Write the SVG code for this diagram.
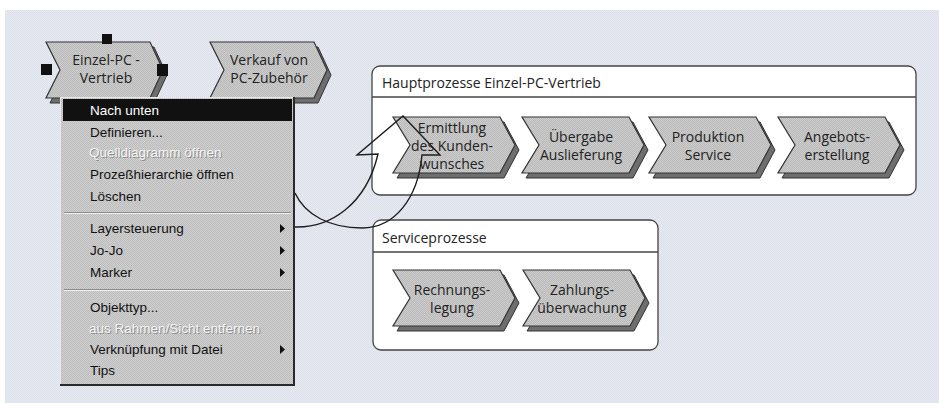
<svg xmlns="http://www.w3.org/2000/svg" xmlns:xlink="http://www.w3.org/1999/xlink" width="939" height="403" viewBox="0 0 939 403">
<style>
.ct{font-family:"Open Sans","Noto Sans","Liberation Sans",sans-serif;font-size:14px;fill:#222;text-anchor:middle}
.tt{font-family:"Open Sans","Noto Sans","Liberation Sans",sans-serif;font-size:14px;fill:#222}
.mt{font-family:"Liberation Sans","DejaVu Sans",sans-serif;font-size:13.5px;fill:#111}
.md{font-family:"Liberation Sans","DejaVu Sans",sans-serif;font-size:13.5px;fill:#f4f4f4}
.mds{font-family:"Liberation Sans","DejaVu Sans",sans-serif;font-size:13.5px;fill:#8c8c8c}
.chev{fill:url(#dith);stroke:#333;stroke-width:1.2}
.shad{fill:#6e6e6e;stroke:#333;stroke-width:1}
.box{fill:#fff;stroke:#444;stroke-width:1.3}
.conn{fill:none;stroke:#1e1e1e;stroke-width:1.4;stroke-linejoin:miter}
.sub{fill:#111}
</style>
<defs>
<pattern id="dith" width="2" height="2" patternUnits="userSpaceOnUse"><rect width="2" height="2" fill="#cdcdcd"/><rect width="1" height="1" fill="#b9b9b9"/><rect x="1" y="1" width="1" height="1" fill="#b9b9b9"/></pattern>
<pattern id="mdith" width="2" height="2" patternUnits="userSpaceOnUse"><rect width="2" height="2" fill="#d0d0d0"/><rect width="1" height="1" fill="#bcbcbc"/><rect x="1" y="1" width="1" height="1" fill="#bcbcbc"/></pattern>
<pattern id="bg" width="2" height="2" patternUnits="userSpaceOnUse"><rect width="2" height="2" fill="#e6e9f1"/><rect width="1" height="1" fill="#dde1ea"/><rect x="1" y="1" width="1" height="1" fill="#dde1ea"/></pattern>
<path id="chev" d="M0,0 L107,0 L122,28 L107,56 L0,56 L17,28 Z"/>
<path id="chevs" d="M0,0 L104,0 L117,28 L104,56 L0,56 L14,28 Z"/>
<polygon id="tri" points="0,0 5,4.5 0,9"/>
</defs>

<rect x="0" y="0" width="939" height="403" fill="#fff"/>
<rect x="5" y="10" width="934" height="393" fill="url(#bg)"/>

<g id="node-einzel-pc-vertrieb">
<use xlink:href="#chevs" x="50" y="47" class="shad"/>
<use xlink:href="#chevs" x="46" y="42" class="chev"/>
<text class="ct" x="106" y="65">Einzel-PC -</text>
<text class="ct" x="106" y="83">Vertrieb</text>
<rect x="102" y="34" width="10" height="10" fill="#111"/>
<rect x="41" y="64" width="11" height="11" fill="#111"/>
<rect x="157" y="64" width="11" height="12" fill="#111"/>
</g>

<g id="node-verkauf-pc-zubehoer">
<use xlink:href="#chevs" x="214" y="47" class="shad"/>
<use xlink:href="#chevs" x="210" y="42" class="chev"/>
<text class="ct" x="269" y="65">Verkauf von</text>
<text class="ct" x="269" y="83">PC-Zubehör</text>
</g>

<g id="group-hauptprozesse">
<rect class="box" x="372" y="66" width="544" height="129" rx="8"/>
<line x1="372" y1="97" x2="916" y2="97" stroke="#444" stroke-width="1.3"/>
<text class="tt" x="382" y="88">Hauptprozesse Einzel-PC-Vertrieb</text>
</g>

<g id="node-ermittlung">
<use xlink:href="#chev" x="397" y="122" class="shad"/>
<use xlink:href="#chev" x="393" y="117" class="chev"/>
<text class="ct" x="452" y="133">Ermittlung</text>
<text class="ct" x="452" y="151">des Kunden-</text>
<text class="ct" x="452" y="169">wunsches</text>
</g>
<g id="node-uebergabe">
<use xlink:href="#chev" x="526" y="122" class="shad"/>
<use xlink:href="#chev" x="522" y="117" class="chev"/>
<text class="ct" x="581" y="142">Übergabe</text>
<text class="ct" x="581" y="160">Auslieferung</text>
</g>
<g id="node-produktion">
<use xlink:href="#chev" x="653" y="122" class="shad"/>
<use xlink:href="#chev" x="649" y="117" class="chev"/>
<text class="ct" x="708" y="142">Produktion</text>
<text class="ct" x="708" y="160">Service</text>
</g>
<g id="node-angebot">
<use xlink:href="#chev" x="782" y="122" class="shad"/>
<use xlink:href="#chev" x="778" y="117" class="chev"/>
<text class="ct" x="837" y="142">Angebots-</text>
<text class="ct" x="837" y="160">erstellung</text>
</g>

<g id="group-serviceprozesse">
<rect class="box" x="373" y="220" width="285" height="130" rx="8"/>
<line x1="373" y1="252" x2="658" y2="252" stroke="#444" stroke-width="1.3"/>
<text class="tt" x="382" y="243">Serviceprozesse</text>
</g>
<g id="node-rechnung">
<use xlink:href="#chev" x="397" y="275" class="shad"/>
<use xlink:href="#chev" x="393" y="270" class="chev"/>
<text class="ct" x="452" y="295">Rechnungs-</text>
<text class="ct" x="452" y="313">legung</text>
</g>
<g id="node-zahlung">
<use xlink:href="#chev" x="527" y="275" class="shad"/>
<use xlink:href="#chev" x="523" y="270" class="chev"/>
<text class="ct" x="582" y="295">Zahlungs-</text>
<text class="ct" x="582" y="313">überwachung</text>
</g>

<g id="context-menu">
<rect x="60" y="97" width="235" height="288" fill="url(#mdith)"/>
<line x1="60.5" y1="97" x2="60.5" y2="385" stroke="#e8e8e8"/>
<line x1="60" y1="97.5" x2="295" y2="97.5" stroke="#e8e8e8"/>
<line x1="294" y1="97" x2="294" y2="386" stroke="#2a2a2a" stroke-width="2"/>
<line x1="60" y1="385" x2="295" y2="385" stroke="#2a2a2a" stroke-width="2"/>
<rect x="63" y="99" width="229" height="22" fill="#111"/>
<text class="mt" x="90" y="115" fill="#fff" style="fill:#fff">Nach unten</text>
<text class="mt" x="90" y="137">Definieren...</text>
<text class="mds" x="90" y="158">Quelldiagramm öffnen</text>
<text class="md" x="89" y="157">Quelldiagramm öffnen</text>
<text class="mt" x="90" y="179">Prozeßhierarchie öffnen</text>
<text class="mt" x="90" y="201">Löschen</text>
<line x1="64" y1="212.5" x2="291" y2="212.5" stroke="#8a8a8a"/>
<line x1="64" y1="213.5" x2="291" y2="213.5" stroke="#f0f0f0"/>
<text class="mt" x="90" y="233">Layersteuerung</text>
<use xlink:href="#tri" x="280" y="224" class="sub"/>
<text class="mt" x="90" y="255">Jo-Jo</text>
<use xlink:href="#tri" x="280" y="246" class="sub"/>
<text class="mt" x="90" y="277">Marker</text>
<use xlink:href="#tri" x="280" y="268" class="sub"/>
<line x1="64" y1="289.5" x2="291" y2="289.5" stroke="#8a8a8a"/>
<line x1="64" y1="290.5" x2="291" y2="290.5" stroke="#f0f0f0"/>
<text class="mt" x="90" y="312">Objekttyp...</text>
<text class="mds" x="90" y="334">aus Rahmen/Sicht entfernen</text>
<text class="md" x="89" y="333">aus Rahmen/Sicht entfernen</text>
<text class="mt" x="90" y="354">Verknüpfung mit Datei</text>
<use xlink:href="#tri" x="280" y="345" class="sub"/>
<text class="mt" x="90" y="375">Tips</text>
</g>

<g id="connectors">
<path class="conn" d="M295,227 C330,228 366,205 378,154 L357,155 L403,116 L440,155 L422,155 C418,198 395,228 362,228 C330,228 305,215 295,193"/>
</g>
</svg>
